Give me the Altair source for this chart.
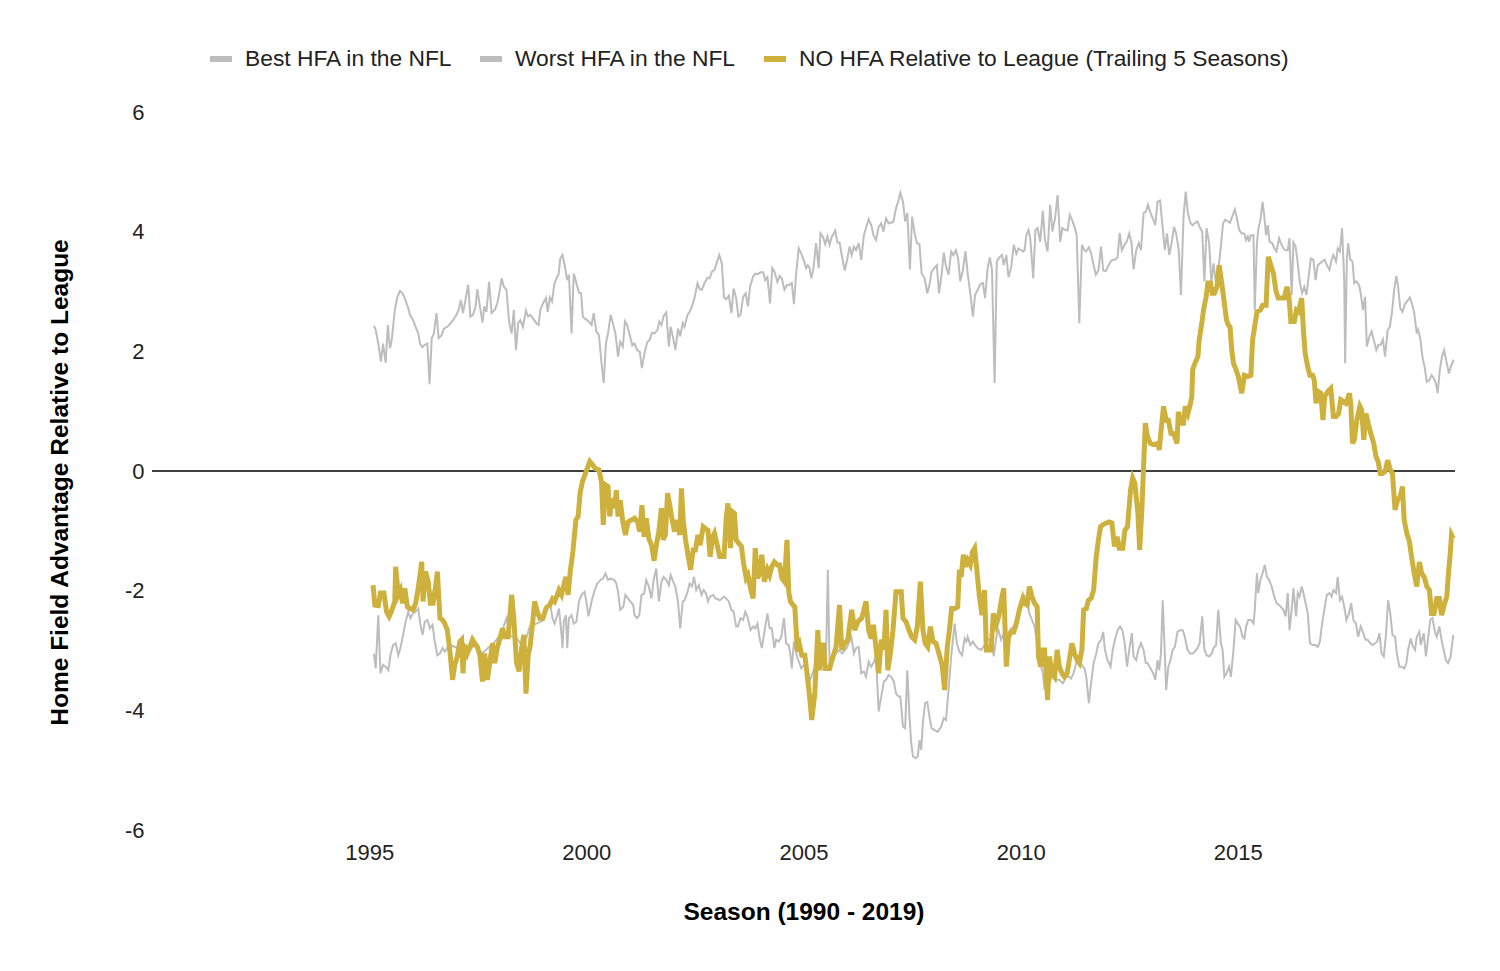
import altair as alt
import pandas as pd

BEST = "Best HFA in the NFL"
WORST = "Worst HFA in the NFL"
NO = "NO HFA Relative to League (Trailing 5 Seasons)"

best_season = [
    1995.11, 1995.15, 1995.21, 1995.27, 1995.32, 1995.38, 1995.43, 1995.48, 1995.52, 1995.59,
    1995.65, 1995.71, 1995.77, 1995.82, 1995.90, 1995.94, 1996.01, 1996.07, 1996.13, 1996.17,
    1996.22, 1996.28, 1996.34, 1996.39, 1996.44, 1996.49, 1996.55, 1996.60, 1996.67, 1996.72,
    1996.80, 1996.86, 1996.93, 1997.01, 1997.07, 1997.11, 1997.16, 1997.23, 1997.28, 1997.33,
    1997.39, 1997.45, 1997.49, 1997.55, 1997.61, 1997.65, 1997.70, 1997.76, 1997.82, 1997.89,
    1997.95, 1998.01, 1998.05, 1998.10, 1998.16, 1998.22, 1998.28, 1998.33, 1998.38, 1998.43,
    1998.48, 1998.54, 1998.61, 1998.66, 1998.71, 1998.77, 1998.85, 1998.90, 1998.94, 1999.00,
    1999.07, 1999.11, 1999.16, 1999.21, 1999.26, 1999.31, 1999.36, 1999.40, 1999.45, 1999.50,
    1999.56, 1999.60, 1999.66, 1999.71, 1999.77, 1999.83, 1999.88, 1999.92,
    1999.96, 2000.04, 2000.12, 2000.17, 2000.23, 2000.29, 2000.35, 2000.40, 2000.45, 2000.50,
    2000.56, 2000.61, 2000.67, 2000.73, 2000.78, 2000.84, 2000.89, 2000.94, 2001.00, 2001.06,
    2001.11, 2001.17, 2001.23, 2001.28, 2001.34, 2001.40, 2001.46, 2001.51, 2001.57, 2001.64,
    2001.68, 2001.73, 2001.78, 2001.84, 2001.90, 2001.94, 2002.00, 2002.05, 2002.11, 2002.16,
    2002.22, 2002.26, 2002.33, 2002.38, 2002.43, 2002.49, 2002.56, 2002.61, 2002.66, 2002.72,
    2002.79, 2002.84, 2002.89, 2002.95, 2003.01, 2003.06, 2003.12, 2003.17, 2003.22, 2003.28,
    2003.34, 2003.39, 2003.45, 2003.50, 2003.55, 2003.61, 2003.67, 2003.72, 2003.77, 2003.84,
    2003.89, 2003.95, 2004.01, 2004.07, 2004.12, 2004.17, 2004.23, 2004.28, 2004.33, 2004.40,
    2004.45, 2004.50, 2004.56, 2004.62, 2004.67, 2004.73, 2004.78, 2004.83, 2004.89, 2004.95,
    2005.03, 2005.06, 2005.10, 2005.14, 2005.18, 2005.23, 2005.29, 2005.35, 2005.39, 2005.45,
    2005.50, 2005.55, 2005.60, 2005.65, 2005.73, 2005.78, 2005.83, 2005.88, 2005.95, 2006.01,
    2006.06, 2006.11, 2006.16, 2006.21, 2006.27, 2006.33, 2006.39, 2006.44, 2006.50, 2006.56,
    2006.61, 2006.67, 2006.73, 2006.79, 2006.84, 2006.90, 2006.96, 2007.02, 2007.07, 2007.13,
    2007.19, 2007.23, 2007.29, 2007.34, 2007.39, 2007.45, 2007.50, 2007.56, 2007.61, 2007.67,
    2007.72, 2007.79, 2007.85, 2007.90, 2007.95, 2008.02, 2008.07, 2008.12, 2008.18, 2008.23,
    2008.28, 2008.34, 2008.40, 2008.45, 2008.51, 2008.56, 2008.61, 2008.67, 2008.73, 2008.78,
    2008.84, 2008.90, 2008.95, 2009.01, 2009.08, 2009.13, 2009.18, 2009.24, 2009.29, 2009.34,
    2009.40, 2009.45, 2009.51, 2009.57, 2009.61, 2009.67, 2009.72, 2009.78, 2009.84, 2009.90,
    2009.95, 2010.01, 2010.06,
    2010.09, 2010.13, 2010.18, 2010.22, 2010.29, 2010.34, 2010.39, 2010.45, 2010.51, 2010.56,
    2010.62, 2010.68, 2010.73, 2010.79, 2010.85, 2010.91, 2010.96, 2011.02, 2011.08, 2011.13,
    2011.18, 2011.24, 2011.29, 2011.35, 2011.41, 2011.47, 2011.51, 2011.57, 2011.62, 2011.68,
    2011.73, 2011.79, 2011.85, 2011.90, 2011.96, 2012.01, 2012.07, 2012.12, 2012.17, 2012.23,
    2012.28, 2012.33, 2012.39, 2012.44, 2012.50, 2012.55, 2012.60, 2012.66, 2012.72, 2012.77,
    2012.83, 2012.88, 2012.93, 2012.99, 2013.05, 2013.10, 2013.15, 2013.21, 2013.26, 2013.32,
    2013.37, 2013.42, 2013.48, 2013.53, 2013.58, 2013.64, 2013.69, 2013.75, 2013.80, 2013.85,
    2013.91, 2013.96, 2014.01, 2014.07, 2014.12, 2014.18, 2014.23, 2014.28, 2014.34, 2014.39,
    2014.44, 2014.50, 2014.55, 2014.60, 2014.66, 2014.71, 2014.77, 2014.82, 2014.87, 2014.93,
    2014.98, 2015.03, 2015.09,
    2015.15, 2015.19, 2015.23, 2015.26, 2015.30, 2015.36, 2015.39, 2015.44, 2015.47, 2015.52,
    2015.57, 2015.61, 2015.65, 2015.69, 2015.73, 2015.79, 2015.84, 2015.89, 2015.95, 2015.99,
    2016.05, 2016.10, 2016.15, 2016.19, 2016.24, 2016.28, 2016.33, 2016.38, 2016.43, 2016.48,
    2016.53, 2016.58, 2016.63, 2016.68, 2016.74, 2016.79, 2016.84, 2016.89, 2016.94, 2017.00,
    2017.05, 2017.11, 2017.16, 2017.20, 2017.26, 2017.30, 2017.35, 2017.40, 2017.45, 2017.47,
    2017.51, 2017.54, 2017.59, 2017.64, 2017.68, 2017.73, 2017.79, 2017.83, 2017.88, 2017.93,
    2017.97, 2018.03, 2018.08, 2018.14, 2018.19, 2018.24, 2018.29, 2018.34, 2018.39, 2018.45,
    2018.50, 2018.55, 2018.60, 2018.65, 2018.69, 2018.74, 2018.79, 2018.85, 2018.91, 2018.96,
    2019.02, 2019.06, 2019.12, 2019.15, 2019.20, 2019.25, 2019.30, 2019.35, 2019.41, 2019.46,
    2019.51, 2019.56, 2019.60, 2019.65, 2019.70, 2019.75, 2019.81, 2019.86, 2019.90, 2019.97,
]
best_hfa = [
    2.43, 2.36, 2.13, 1.83, 2.13, 1.81, 2.44, 2.05, 2.19, 2.69,
    2.91, 3.01, 2.97, 2.89, 2.72, 2.61, 2.52, 2.41, 2.30, 2.13,
    2.07, 2.11, 2.13, 1.45, 2.22, 2.30, 2.64, 2.22, 2.27, 2.38,
    2.41, 2.46, 2.52, 2.61, 2.72, 2.86, 2.64, 2.91, 3.11, 2.58,
    2.61, 2.75, 3.04, 2.75, 2.48, 2.75, 2.66, 3.16, 2.64, 2.69,
    2.80, 3.03, 3.22, 3.08, 3.03, 2.50, 2.30, 2.69, 2.02, 2.47,
    2.52, 2.41, 2.68, 2.58, 2.61, 2.55, 2.47, 2.44, 2.69, 2.80,
    2.89, 2.66, 2.90, 2.83, 3.11, 3.22, 3.28, 3.55, 3.61, 3.44,
    3.19, 3.28, 2.30, 3.30, 3.14, 2.98, 2.97, 2.58,
    2.55, 2.51, 2.44, 2.64, 2.33, 2.27, 1.80, 1.47, 2.13, 2.30,
    2.61, 2.47, 2.30, 1.91, 2.16, 2.08, 2.50, 2.44, 2.27, 2.10,
    2.13, 2.02, 1.99, 1.72, 1.97, 2.15, 2.19, 2.31, 2.30, 2.36,
    2.50, 2.44, 2.59, 2.65, 2.08, 2.41, 2.22, 2.02, 2.38, 2.25,
    2.47, 2.41, 2.61, 2.66, 2.75, 2.89, 3.14, 3.04, 3.03, 3.14,
    3.23, 3.22, 3.33, 3.36, 3.50, 3.61, 3.47, 2.90, 2.87, 2.93,
    2.64, 3.05, 2.89, 2.58, 2.61, 2.91, 2.97, 2.75, 3.08, 3.25,
    3.30, 3.29, 3.32, 3.32, 3.19, 3.24, 2.80, 3.39, 3.33, 3.16,
    3.26, 3.22, 3.03, 3.11, 3.11, 3.14, 2.79, 3.30, 3.72, 3.63,
    3.47, 3.39, 3.44, 3.39, 3.22, 3.39, 3.81, 3.39, 3.97, 3.91,
    3.79, 3.92, 3.78, 3.91, 4.02, 3.82, 3.82, 3.61, 3.35, 3.55,
    3.75, 3.61, 3.75, 3.69, 3.81, 3.53, 3.94, 4.06, 4.21, 4.11,
    3.94, 3.86, 4.08, 4.14, 4.00, 4.22, 4.14, 4.15, 4.17, 4.39,
    4.53, 4.65, 4.50, 4.17, 4.31, 3.37, 4.25, 3.97, 3.81, 3.79,
    3.30, 3.22, 2.97, 3.11, 3.33, 3.40, 3.44, 2.97, 3.28, 3.65,
    3.42, 3.28, 3.67, 3.61, 3.69, 3.55, 3.17, 3.36, 3.67, 3.30,
    2.97, 2.58, 2.94, 3.03, 3.13, 3.14, 2.89, 3.39, 3.57, 3.36,
    1.47, 3.50, 3.57, 3.61, 3.44, 3.61, 3.24, 3.39, 3.78, 3.63,
    3.72, 3.69, 3.67,
    3.69, 3.94, 4.03, 3.89, 3.22, 4.03, 4.06, 3.83, 4.35, 3.86,
    3.67, 4.45, 4.00, 4.22, 4.61, 3.83, 4.06, 4.03, 4.02, 4.28,
    4.20, 4.08, 3.94, 2.47, 3.78, 3.69, 3.67, 3.74, 3.64, 3.44,
    3.28, 3.35, 3.75, 3.35, 3.34, 3.42, 3.50, 3.53, 3.53, 3.57,
    3.98, 3.69, 3.78, 3.83, 3.97, 3.82, 3.37, 3.69, 3.81, 3.69,
    4.31, 4.33, 4.45, 4.31, 4.21, 4.11, 4.50, 4.52, 4.14, 3.69,
    3.97, 3.61, 3.83, 4.08, 3.97, 3.69, 2.94, 4.25, 4.67, 4.31,
    4.14, 4.11, 4.14, 4.17, 4.08, 4.00, 3.17, 4.06, 3.81, 3.14,
    3.47, 3.11, 3.36, 3.69, 4.14, 4.20, 4.17, 4.15, 4.25, 4.37,
    4.22, 4.03, 3.97,
    3.97, 3.86, 3.92, 3.83, 3.94, 3.94, 2.69, 3.81, 4.03, 4.20,
    4.50, 4.25, 3.94, 4.11, 3.83, 3.81, 3.72, 3.67, 3.89, 3.81,
    3.72, 3.69, 3.69, 3.89, 2.94, 3.82, 3.75, 3.47, 3.14, 2.97,
    3.08, 2.94, 3.25, 3.55, 3.53, 3.19, 3.44, 3.47, 3.50, 3.53,
    3.44, 3.36, 3.53, 3.61, 3.50, 3.72, 3.67, 4.06, 3.19, 1.80,
    3.53, 3.81, 3.53, 3.50, 3.14, 3.17, 3.11, 2.97, 2.69, 2.91,
    2.08, 2.25, 2.33, 2.16, 2.02, 2.11, 2.11, 2.20, 1.91, 2.36,
    2.41, 2.66, 3.03, 3.26, 3.08, 2.72, 2.66, 2.79, 2.85, 2.90,
    2.77, 2.64, 2.30, 2.36, 2.22, 1.91, 1.74, 1.49, 1.52, 1.60,
    1.55, 1.47, 1.30, 1.69, 1.91, 2.02, 1.80, 1.63, 1.74, 1.86,
]

worst_season = [
    1995.11, 1995.15, 1995.21, 1995.26, 1995.32, 1995.38, 1995.44, 1995.49, 1995.55, 1995.61,
    1995.67, 1995.72, 1995.78, 1995.84, 1995.90, 1995.95, 1996.01, 1996.07, 1996.13, 1996.18,
    1996.23, 1996.28, 1996.34, 1996.40, 1996.46, 1996.51, 1996.57, 1996.63, 1996.69, 1996.74,
    1996.85, 1997.00, 1997.15, 1997.30, 1997.45, 1997.60, 1997.75, 1997.90, 1998.05, 1998.16,
    1998.25, 1998.40, 1998.55, 1998.70, 1998.85, 1999.00,
    1999.16, 1999.22, 1999.27, 1999.33, 1999.37, 1999.43, 1999.45, 1999.48, 1999.53, 1999.56,
    1999.60, 1999.66, 1999.71, 1999.77, 1999.83, 1999.89,
    1999.96, 2000.00, 2000.05, 2000.12, 2000.18, 2000.25, 2000.33, 2000.39, 2000.44, 2000.50,
    2000.56, 2000.64, 2000.69, 2000.73, 2000.78, 2000.85, 2000.90, 2000.96, 2001.01, 2001.08,
    2001.11, 2001.17, 2001.22, 2001.27, 2001.33, 2001.38, 2001.44, 2001.50, 2001.55, 2001.61,
    2001.67, 2001.73, 2001.78, 2001.84, 2001.90, 2001.94, 2002.00, 2002.05, 2002.11, 2002.16,
    2002.22, 2002.26, 2002.33, 2002.38, 2002.43, 2002.48, 2002.53, 2002.59, 2002.65, 2002.70,
    2002.76, 2002.80, 2002.85, 2002.92, 2002.97, 2003.02, 2003.07, 2003.12, 2003.17, 2003.22,
    2003.28, 2003.34, 2003.39, 2003.45, 2003.49, 2003.55, 2003.61, 2003.66, 2003.72, 2003.78,
    2003.84, 2003.89, 2003.94, 2003.99, 2004.04, 2004.10, 2004.17, 2004.22, 2004.27, 2004.33,
    2004.37, 2004.43, 2004.49, 2004.55, 2004.60, 2004.66, 2004.70, 2004.73, 2004.78,
    2004.85, 2004.95, 2005.05, 2005.15, 2005.25, 2005.35, 2005.45, 2005.52, 2005.56, 2005.60,
    2005.70, 2005.80, 2005.90, 2006.00,
    2006.10, 2006.16, 2006.21, 2006.27, 2006.33, 2006.39, 2006.44, 2006.50, 2006.56, 2006.61,
    2006.67, 2006.73, 2006.79, 2006.85, 2006.90, 2006.96, 2007.02, 2007.08, 2007.13, 2007.19,
    2007.23, 2007.29, 2007.34, 2007.39, 2007.44, 2007.48, 2007.52, 2007.58, 2007.63, 2007.67,
    2007.71, 2007.75, 2007.80, 2007.85, 2007.90, 2007.95, 2008.02, 2008.09, 2008.17, 2008.23,
    2008.28, 2008.34, 2008.40, 2008.48, 2008.53, 2008.59, 2008.65, 2008.71, 2008.75, 2008.78,
    2008.84, 2008.90, 2008.95, 2009.01, 2009.09, 2009.17, 2009.23, 2009.29, 2009.34, 2009.38,
    2009.44, 2009.49, 2009.55, 2009.61, 2009.67, 2009.72, 2009.78, 2009.84, 2009.93, 2010.05,
    2010.09, 2010.15, 2010.20, 2010.26, 2010.32, 2010.38, 2010.43, 2010.51, 2010.55, 2010.59,
    2010.66, 2010.74, 2010.82, 2010.89, 2010.97, 2011.05, 2011.12, 2011.16, 2011.22, 2011.28,
    2011.35, 2011.43, 2011.47, 2011.51, 2011.57, 2011.62, 2011.68, 2011.74, 2011.79, 2011.85,
    2011.90, 2011.94, 2012.00, 2012.07, 2012.12, 2012.17, 2012.23, 2012.29, 2012.34, 2012.39,
    2012.45, 2012.50, 2012.56, 2012.60, 2012.66, 2012.71, 2012.77, 2012.83, 2012.88, 2012.92,
    2012.99, 2013.05, 2013.10, 2013.15, 2013.19, 2013.23, 2013.27, 2013.31, 2013.35, 2013.40,
    2013.45, 2013.50, 2013.55, 2013.61, 2013.67, 2013.73, 2013.78, 2013.84, 2013.90, 2013.96,
    2014.01, 2014.07, 2014.12, 2014.18, 2014.23, 2014.28, 2014.34, 2014.40, 2014.44, 2014.50,
    2014.55, 2014.61, 2014.65, 2014.69, 2014.74, 2014.80, 2014.84, 2014.90, 2014.95, 2015.00,
    2015.05, 2015.11,
    2015.15, 2015.19, 2015.24, 2015.30, 2015.36, 2015.39, 2015.44, 2015.47, 2015.52, 2015.57,
    2015.62, 2015.67, 2015.72, 2015.78, 2015.84, 2015.89, 2015.95, 2015.99, 2016.05, 2016.10,
    2016.15, 2016.19, 2016.24, 2016.28, 2016.34, 2016.38, 2016.42, 2016.47, 2016.51, 2016.56,
    2016.61, 2016.66, 2016.72, 2016.78, 2016.84, 2016.89, 2016.94, 2016.99, 2017.05, 2017.11,
    2017.16, 2017.20, 2017.26, 2017.30, 2017.35, 2017.40, 2017.45, 2017.50, 2017.56, 2017.61,
    2017.66, 2017.72, 2017.77, 2017.83, 2017.89, 2017.94, 2017.99, 2018.05, 2018.10, 2018.16,
    2018.21, 2018.26, 2018.31, 2018.36, 2018.41, 2018.46, 2018.51, 2018.56, 2018.62, 2018.66,
    2018.72, 2018.77, 2018.83, 2018.88, 2018.92, 2018.98, 2019.02, 2019.08, 2019.12, 2019.18,
    2019.21, 2019.28, 2019.33, 2019.38, 2019.43, 2019.48, 2019.54, 2019.58, 2019.64, 2019.69,
    2019.74, 2019.79, 2019.84, 2019.90, 2019.96,
]
worst_hfa = [
    -3.05, -3.30, -2.41, -3.38, -3.24, -3.27, -3.33, -3.08, -2.91, -2.88,
    -3.08, -2.96, -2.74, -2.52, -2.35, -2.46, -2.38, -2.35, -2.30, -2.57,
    -2.74, -2.52, -2.49, -2.63, -2.57, -2.85, -3.08, -3.05, -2.96, -3.02,
    -2.90, -2.95, -2.85, -3.00, -2.90, -3.05, -2.95, -2.85, -2.70, -2.46,
    -2.75, -2.80, -2.95, -2.60, -2.55, -2.50,
    -2.18, -2.46, -2.55, -2.41, -2.30, -2.74, -2.96, -2.52, -2.41, -2.96,
    -2.46, -2.41, -2.55, -2.52, -2.18, -2.07,
    -2.02, -2.18, -2.43, -2.18, -2.02, -1.88, -1.82, -1.79, -1.71, -1.82,
    -1.80, -1.82, -1.88, -2.02, -2.32, -2.27, -2.07, -2.13, -2.18, -2.24,
    -2.41, -2.46, -2.41, -2.07, -2.05, -1.82, -1.93, -2.13, -1.82, -1.63,
    -2.18, -1.85, -1.77, -1.82, -1.91, -1.74, -1.85, -1.93, -2.18, -2.63,
    -2.18, -2.16, -2.02, -1.88, -1.93, -1.77, -1.99, -1.91, -2.07, -1.99,
    -2.05, -2.18, -2.10, -2.07, -2.13, -2.14, -2.16, -2.13, -2.10, -2.13,
    -2.18, -2.32, -2.35, -2.60, -2.60, -2.46, -2.49, -2.35, -2.46, -2.66,
    -2.60, -2.63, -2.55, -2.80, -2.96, -2.69, -2.38, -2.63, -2.63, -2.96,
    -2.82, -2.85, -2.77, -2.46, -2.88, -2.91, -3.08, -3.30, -2.85,
    -3.10, -3.30, -3.20, -3.50, -3.30, -3.10, -3.20, -3.10, -1.65, -3.20,
    -3.10, -3.00, -3.05, -2.95,
    -2.77, -3.05, -2.96, -2.94, -3.38, -3.35, -3.44, -3.19, -3.27, -3.21,
    -3.10, -4.02, -3.77, -3.52, -3.49, -3.41, -3.44, -3.52, -3.72, -3.77,
    -3.77, -4.27, -4.30, -3.33, -4.11, -4.55, -4.77, -4.80, -4.77, -4.50,
    -4.66, -4.19, -3.88, -3.86, -4.11, -4.30, -4.33, -4.36, -4.27, -4.13,
    -4.16, -3.66, -3.10, -2.55, -2.88, -3.02, -3.08, -2.80, -2.85, -2.77,
    -2.91, -2.85, -2.91, -2.96, -2.99, -2.91, -2.82, -2.82, -2.85, -3.10,
    -2.77, -2.66, -2.82, -2.71, -2.82, -2.71, -2.63, -2.60, -2.46, -2.18,
    -2.10, -2.21, -2.38, -2.49, -2.60, -2.88, -3.16, -3.38, -3.66, -3.27,
    -3.55, -3.38, -3.49, -3.49, -3.55, -3.44, -3.44, -3.47, -3.38, -3.21,
    -3.16, -3.27, -3.30, -3.44, -3.88, -3.55, -3.21, -3.05, -2.88, -2.82,
    -2.69, -2.99, -3.16, -3.27, -2.99, -2.82, -2.66, -2.60, -2.66, -2.85,
    -3.27, -2.99, -2.71, -3.10, -3.16, -2.99, -2.88, -2.99, -3.21, -3.21,
    -3.30, -3.38, -3.49, -3.16, -3.33, -3.05, -2.16, -2.88, -3.66, -3.27,
    -3.16, -2.99, -2.94, -2.69, -2.66, -2.66, -2.77, -2.99, -3.05, -3.05,
    -3.02, -2.96, -2.88, -2.43, -2.99, -3.08, -3.10, -3.05, -2.96, -2.91,
    -2.32, -2.88, -2.99, -3.44, -3.38, -3.27, -3.44, -2.99, -2.49, -2.55,
    -2.60, -2.77,
    -2.80, -2.60, -2.49, -2.49, -2.55, -2.32, -1.71, -2.04, -1.82, -1.71,
    -1.57, -1.77, -1.82, -1.93, -2.10, -2.21, -2.24, -2.27, -2.32, -2.43,
    -2.04, -2.66, -2.32, -1.96, -2.43, -2.04, -2.10, -1.93, -2.04, -2.21,
    -2.38, -2.88, -2.91, -2.91, -2.94, -2.85, -2.55, -2.32, -2.07, -2.04,
    -2.10, -1.99, -2.04, -1.77, -2.16, -2.10, -2.27, -2.49, -2.38, -2.21,
    -2.49, -2.55, -2.77, -2.60, -2.71, -2.82, -2.82, -2.88, -2.91, -2.88,
    -2.85, -2.71, -3.05, -3.10, -2.74, -2.16, -2.38, -2.74, -2.77, -3.05,
    -3.27, -3.27, -3.30, -3.21, -2.99, -2.80, -2.91, -2.99, -2.77, -2.69,
    -2.91, -2.71, -3.10, -2.80, -2.49, -2.46, -2.69, -2.77, -2.60, -2.82,
    -2.99, -3.16, -3.21, -3.10, -2.74,
]

no_season = [
    1995.09, 1995.13, 1995.21, 1995.26, 1995.34, 1995.40, 1995.46, 1995.51, 1995.59, 1995.61,
    1995.67, 1995.72, 1995.77, 1995.82, 1995.88, 1995.94, 1996.01, 1996.07, 1996.13, 1996.21,
    1996.24, 1996.30, 1996.36, 1996.41, 1996.47, 1996.53, 1996.57, 1996.63, 1996.69, 1996.74,
    1996.80, 1996.86, 1996.92, 1996.97, 1997.03, 1997.09, 1997.13, 1997.16, 1997.20, 1997.26,
    1997.32, 1997.38, 1997.43, 1997.49, 1997.55, 1997.61, 1997.66, 1997.72, 1997.78, 1997.84,
    1997.89, 1997.95, 1998.01, 1998.07, 1998.12, 1998.20, 1998.28, 1998.33, 1998.39, 1998.45,
    1998.51, 1998.56, 1998.61, 1998.66, 1998.71, 1998.77, 1998.81, 1998.87, 1998.93, 1999.00,
    1999.07, 1999.10, 1999.16, 1999.22, 1999.27, 1999.33, 1999.37, 1999.43, 1999.48, 1999.53,
    1999.58, 1999.63, 1999.69, 1999.76, 1999.81, 1999.86, 1999.91,
    2000.02, 2000.08, 2000.15, 2000.21, 2000.29, 2000.35, 2000.39, 2000.44, 2000.50, 2000.54,
    2000.59, 2000.65, 2000.69, 2000.73, 2000.78, 2000.84, 2000.90, 2000.96, 2001.04, 2001.11,
    2001.18, 2001.23, 2001.28, 2001.33, 2001.38, 2001.44, 2001.50, 2001.56, 2001.61, 2001.67,
    2001.73, 2001.77, 2001.82, 2001.87, 2001.92, 2001.97, 2002.03, 2002.10, 2002.15, 2002.19,
    2002.23, 2002.28, 2002.34, 2002.40, 2002.46, 2002.51, 2002.57, 2002.62, 2002.69, 2002.74,
    2002.80, 2002.85, 2002.91, 2002.95, 2003.02, 2003.07, 2003.12, 2003.17, 2003.22, 2003.26,
    2003.32, 2003.36, 2003.41, 2003.45, 2003.51, 2003.57, 2003.62, 2003.68, 2003.72, 2003.78,
    2003.84, 2003.89, 2003.94, 2003.99, 2004.04, 2004.10, 2004.17, 2004.22, 2004.27, 2004.33,
    2004.40, 2004.45, 2004.50, 2004.56, 2004.62, 2004.66, 2004.70, 2004.76, 2004.80, 2004.86,
    2004.91, 2004.96,
    2005.03, 2005.09, 2005.14, 2005.19, 2005.26, 2005.33, 2005.37, 2005.41, 2005.46, 2005.50,
    2005.60, 2005.68, 2005.75, 2005.83, 2005.88, 2005.95, 2006.02, 2006.11, 2006.18, 2006.25,
    2006.34, 2006.44, 2006.50, 2006.56, 2006.61, 2006.67, 2006.73, 2006.79, 2006.85, 2006.90,
    2006.94, 2007.00, 2007.06, 2007.13, 2007.25, 2007.29, 2007.36, 2007.43, 2007.49, 2007.56,
    2007.62, 2007.69, 2007.75, 2007.80, 2007.86, 2007.92, 2007.98, 2008.05, 2008.13, 2008.19,
    2008.25, 2008.31, 2008.36, 2008.41, 2008.49, 2008.55, 2008.59, 2008.63, 2008.68, 2008.73,
    2008.78, 2008.84, 2008.89, 2008.94, 2008.99, 2009.05, 2009.11, 2009.17, 2009.21, 2009.26,
    2009.32, 2009.37, 2009.44, 2009.50, 2009.57, 2009.61, 2009.67, 2009.72, 2009.78, 2009.84,
    2009.90, 2009.97, 2010.05,
    2010.09, 2010.15, 2010.20, 2010.26, 2010.32, 2010.38, 2010.41, 2010.46, 2010.49, 2010.55,
    2010.59, 2010.62, 2010.66, 2010.72, 2010.78, 2010.84, 2010.89, 2010.95, 2011.01, 2011.07,
    2011.12, 2011.18, 2011.24, 2011.30, 2011.35, 2011.41, 2011.45, 2011.51, 2011.56, 2011.62,
    2011.68, 2011.74, 2011.79, 2011.84, 2011.89, 2011.97, 2012.04, 2012.10, 2012.16, 2012.22,
    2012.27, 2012.35, 2012.40, 2012.46, 2012.53, 2012.58, 2012.63, 2012.70, 2012.74, 2012.79,
    2012.83, 2012.87, 2012.92, 2012.99, 2013.06, 2013.16, 2013.19, 2013.25, 2013.29, 2013.35,
    2013.40, 2013.46, 2013.50, 2013.55, 2013.60, 2013.63, 2013.69, 2013.75, 2013.79, 2013.85,
    2013.90, 2013.94, 2013.96, 2014.01, 2014.08, 2014.11, 2014.17, 2014.21, 2014.27, 2014.31,
    2014.37, 2014.41, 2014.46, 2014.52, 2014.57, 2014.63, 2014.69, 2014.74, 2014.78, 2014.82,
    2014.86, 2014.90, 2014.96, 2015.01, 2015.09,
    2015.15, 2015.23, 2015.30, 2015.34, 2015.40, 2015.44, 2015.52, 2015.57, 2015.65, 2015.70,
    2015.76, 2015.82, 2015.88, 2015.93, 2015.99, 2016.07, 2016.13, 2016.18, 2016.22, 2016.30,
    2016.35, 2016.40, 2016.47, 2016.51, 2016.55, 2016.61, 2016.66, 2016.72, 2016.76, 2016.80,
    2016.85, 2016.91, 2016.96, 2017.00, 2017.07, 2017.14, 2017.20, 2017.26, 2017.32, 2017.37,
    2017.43, 2017.49, 2017.57, 2017.60, 2017.64, 2017.68, 2017.74, 2017.81, 2017.85, 2017.90,
    2017.95, 2018.00, 2018.06, 2018.13, 2018.18, 2018.23, 2018.28, 2018.33, 2018.39, 2018.45,
    2018.51, 2018.56, 2018.62, 2018.68, 2018.74, 2018.79, 2018.83, 2018.89, 2018.95, 2019.00,
    2019.06, 2019.12, 2019.18, 2019.23, 2019.29, 2019.35, 2019.41, 2019.46, 2019.52, 2019.58,
    2019.64, 2019.69, 2019.75, 2019.81, 2019.85, 2019.89, 2019.92, 2019.96,
]
no_hfa = [
    -1.91, -2.24, -2.25, -2.04, -2.04, -2.35, -2.43, -2.35, -2.18, -1.60,
    -2.07, -1.99, -2.21, -1.96, -2.27, -2.30, -2.32, -2.21, -1.96, -1.52,
    -2.18, -1.68, -1.85, -2.21, -2.21, -1.93, -1.68, -2.46, -2.49, -2.55,
    -2.66, -3.02, -3.49, -3.24, -3.10, -2.85, -2.82, -3.38, -2.91, -3.05,
    -2.94, -2.82, -2.88, -2.94, -3.08, -3.52, -3.05, -3.49, -3.19, -2.88,
    -3.21, -2.96, -2.80, -2.63, -2.77, -2.77, -2.07, -2.46, -3.19, -3.35,
    -2.96, -2.74, -3.72, -3.08, -2.91, -2.49, -2.18, -2.35, -2.46, -2.46,
    -2.30, -2.27, -2.24, -2.14, -2.18, -2.07, -1.99, -2.07, -1.91, -1.77,
    -2.07, -1.68, -1.35, -0.82, -0.76, -0.35, -0.18,
    0.04, 0.16, 0.10, 0.04, 0.02, -0.18, -0.90, -0.23, -0.26, -0.76,
    -0.46, -0.62, -0.32, -0.76, -0.49, -0.85, -1.07, -0.85, -0.82, -0.79,
    -0.85, -1.01, -0.57, -1.10, -0.79, -1.13, -1.24, -1.50, -1.24, -1.01,
    -0.62, -1.15, -1.07, -0.37, -0.57, -0.79, -1.01, -0.82, -1.07, -0.29,
    -0.82, -1.13, -1.40, -1.65, -1.32, -1.32, -1.07, -1.24, -0.93, -0.96,
    -0.99, -1.43, -1.10, -1.04, -1.26, -1.43, -1.43, -1.43, -0.79, -0.54,
    -1.29, -0.68, -0.71, -1.15, -1.21, -1.26, -1.54, -1.79, -1.74, -1.96,
    -2.13, -1.29, -1.79, -1.71, -1.40, -1.85, -1.65, -1.74, -1.60, -1.52,
    -1.57, -1.57, -1.79, -1.85, -1.15, -2.02, -2.18, -2.24, -2.27, -3.02,
    -2.91, -3.08,
    -3.08, -3.44, -3.77, -4.16, -3.72, -2.66, -3.33, -2.91, -2.91, -3.30,
    -3.30, -3.10, -2.94, -2.24, -2.99, -2.88, -2.82, -2.32, -2.66, -2.52,
    -2.46, -2.18, -2.66, -2.80, -2.57, -2.96, -3.38, -2.82, -2.99, -2.32,
    -3.33, -3.05, -2.66, -2.02, -2.02, -2.46, -2.52, -2.66, -2.77, -2.82,
    -2.60, -1.85, -2.66, -2.88, -2.94, -2.60, -2.85, -2.88, -3.08, -3.24,
    -3.66, -2.94, -2.66, -2.30, -2.30, -2.27, -1.65, -1.77, -1.40, -1.60,
    -1.49, -1.57, -1.35, -1.29, -1.65, -2.10, -2.41, -1.99, -2.99, -2.99,
    -2.99, -2.38, -2.57, -2.41, -2.10, -1.96, -3.27, -2.77, -2.69, -2.69,
    -2.55, -2.32, -2.13,
    -2.21, -2.24, -1.93, -2.10, -2.21, -2.27, -3.10, -3.27, -2.99, -2.99,
    -3.44, -3.83, -3.10, -3.38, -3.44, -2.99, -3.27, -3.38, -3.44, -3.38,
    -3.16, -2.88, -3.05, -3.16, -3.21, -2.99, -2.32, -2.30, -2.16, -2.13,
    -1.99, -1.43, -1.15, -0.93, -0.90, -0.87, -0.85, -0.87, -1.26, -1.10,
    -1.29, -1.29, -0.99, -0.93, -0.32, -0.12, -0.21, -0.71, -1.32, -0.65,
    0.07, 0.80, 0.57, 0.46, 0.44, 0.46, 0.35, 0.80, 1.08, 0.85,
    0.85, 0.63, 0.63, 0.57, 0.46, 0.99, 0.80, 0.80, 1.08, 0.96,
    1.10, 1.24, 1.69, 1.80, 1.91, 2.19, 2.47, 2.69, 2.91, 3.14,
    3.14, 2.97, 2.97, 3.08, 3.44, 3.14, 2.80, 2.52, 2.44, 2.41,
    2.02, 1.80, 1.69, 1.58, 1.30,
    1.60, 1.58, 1.60, 2.19, 2.47, 2.66, 2.69, 2.77, 2.77, 3.58,
    3.44, 3.30, 3.00, 2.89, 2.89, 2.89, 3.08, 2.89, 2.50, 2.50,
    2.69, 2.66, 2.89, 2.36, 1.97, 1.74, 1.60, 1.60, 1.52, 1.13,
    1.33, 1.30, 0.85, 1.24, 1.33, 1.38, 0.91, 0.91, 0.96, 1.19,
    1.16, 1.13, 1.30, 1.13, 0.46, 0.52, 0.85, 1.08, 1.02, 0.52,
    0.96, 0.80, 0.63, 0.46, 0.24, 0.16, -0.04, -0.04, -0.01, 0.18,
    0.02, -0.04, -0.65, -0.48, -0.43, -0.26, -0.82, -1.04, -1.18, -1.43,
    -1.71, -1.93, -1.52, -1.71, -1.77, -1.93, -1.99, -2.38, -2.38, -2.13,
    -2.13, -2.41, -2.24, -2.10, -1.71, -1.38, -1.07, -1.13,
]

series_names = [BEST, WORST, NO]
series_colors = ["#bdbdbd", "#bdbdbd", "#cdb13c"]
y_ticks = [-6, -4, -2, 0, 2, 4, 6]
x_ticks = [1995, 2000, 2005, 2010, 2015]

df = pd.concat([
    pd.DataFrame({"season": best_season, "hfa": best_hfa, "series": BEST}),
    pd.DataFrame({"season": worst_season, "hfa": worst_hfa, "series": WORST}),
    pd.DataFrame({"season": no_season, "hfa": no_hfa, "series": NO}),
], ignore_index=True)

FONT = "Liberation Sans"

x_enc = alt.X(
    "season:Q",
    scale=alt.Scale(domain=[1990, 2020], nice=False, zero=False),
    axis=alt.Axis(
        title="Season (1990 - 2019)", values=x_ticks, format="d",
        grid=False, domain=False, ticks=False, tickSize=0,
        labelFontSize=22, labelPadding=12, labelColor="#222222",
        titleFontSize=24.5, titleFontWeight="bold", titlePadding=37, titleColor="#000000",
    ),
)
y_enc = alt.Y(
    "hfa:Q",
    scale=alt.Scale(domain=[-6, 6], nice=False),
    axis=alt.Axis(
        title="Home Field Advantage Relative to League", values=y_ticks,
        labelExpr="'' + datum.value",
        grid=False, domain=False, ticks=False, tickSize=0,
        labelFontSize=22, labelPadding=8, labelColor="#222222",
        titleFontSize=24.5, titleFontWeight="bold", titlePadding=52, titleColor="#000000",
        titleY=370,
    ),
)
color_enc = alt.Color(
    "series:N",
    scale=alt.Scale(domain=series_names, range=series_colors),
    legend=alt.Legend(
        title=None, orient="none", direction="horizontal",
        legendX=55, legendY=-67,
        symbolType="stroke", symbolStrokeWidth=6, symbolSize=484,
        labelFontSize=22.8, labelColor="#222222", labelOffset=10,
        columnPadding=15, labelLimit=800,
    ),
)

base = alt.Chart(df)

gray = base.transform_filter(
    alt.FieldOneOfPredicate(field="series", oneOf=[BEST, WORST])
).mark_line(strokeWidth=2).encode(x=x_enc, y=y_enc, color=color_enc, detail="series:N")

gold = base.transform_filter(
    alt.FieldEqualPredicate(field="series", equal=NO)
).mark_line(strokeWidth=5).encode(x=x_enc, y=y_enc, color=color_enc)

zero = alt.Chart(pd.DataFrame({"z": [0]})).mark_rule(color="#000000", strokeWidth=1.5).encode(
    y=alt.Y("z:Q", scale=alt.Scale(domain=[-6, 6], nice=False))
)

chart = alt.layer(gray, zero, gold).properties(
    width=1303, height=718,
    autosize=alt.AutoSizeParams(type="none"),
    padding={"left": 144, "top": 104, "right": 30, "bottom": 100},
).configure(font=FONT).configure_view(stroke=None)

chart.save("out.html", embed_options={"renderer": "svg", "actions": False})
